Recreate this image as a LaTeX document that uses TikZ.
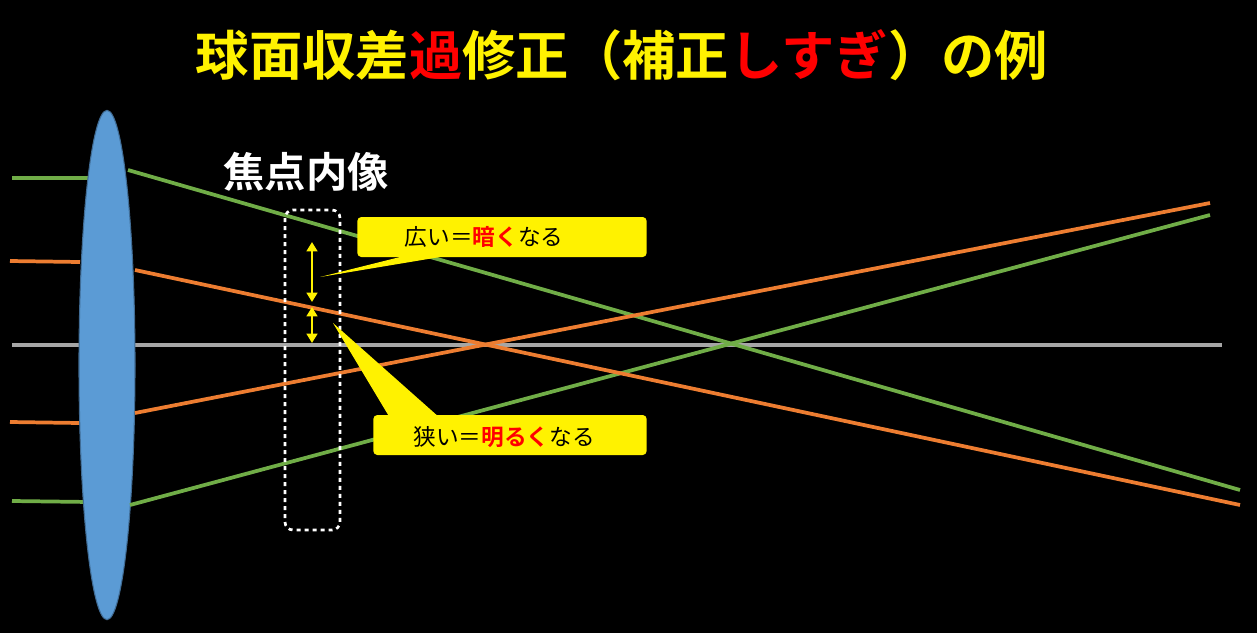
\documentclass[tikz,border=0pt]{standalone}
\usepackage{fontspec}
\newfontfamily\jp{Noto Sans CJK JP}
\newfontfamily\jpb{Noto Sans CJK JP Bold}
\usetikzlibrary{arrows.meta,shapes.geometric}
\definecolor{lgreen}{HTML}{70AD47}
\definecolor{lorange}{HTML}{ED7D31}
\definecolor{lblue}{HTML}{5B9BD5}
\tikzset{ray/.style={line width=2.8pt},
 callout/.style={fill=yellow,rounded corners=3pt},
 yarrow/.style={yellow,line width=2pt,{Triangle[length=7pt,width=8pt]}-{Triangle[length=7pt,width=8pt]}}}
\begin{document}
\begin{tikzpicture}[x=0.75pt,y=-0.75pt]
\fill[black] (0,0) rectangle (1257,633);
\useasboundingbox (0,0) rectangle (1257,633);
\node (title) at (622,55) {\jpb\fontsize{40}{42}\selectfont\color{yellow}球面収差\textcolor{red}{過}修正（補正\textcolor{red}{しすぎ}）の例};
\draw[gray!70,line width=2.8pt] (12,345) -- (1222,345);
% rays
\draw[ray,lgreen] (12,178) -- (90,178);
\draw[ray,lgreen] (12,501) -- (90,502);
\draw[ray,lorange] (10,261) -- (80,262);
\draw[ray,lorange] (10,422) -- (80,423);
\node[ellipse,minimum width=42pt,minimum height=382pt,fill=lblue,draw=lblue!70!black,line width=0.8pt] (lens) at (107,365) {};
\draw[ray,lgreen] (128,170) -- (1240,490);
\draw[ray,lgreen] (130,505) -- (1210,215);
\draw[ray,lorange] (135,270) -- (1240,505);
\draw[ray,lorange] (135,413) -- (1210,203);
\draw[white,dashed,line width=2pt,rounded corners=6pt] (285,210) rectangle (340,530);
\node[white] (lab) at (306,172) {\jpb\fontsize{31}{33}\selectfont 焦点内像};
\draw[yarrow] (312,242) -- (312,302);
\draw[yarrow] (312,307) -- (312,343);
% callouts
\fill[yellow] (400,257) -- (320,277) -- (470,252) -- cycle;
\node[callout,minimum width=217pt,minimum height=30pt] (c1) at (502,237) {};
\node at (484,237) {\jp\fontsize{17}{19}\selectfont 広い＝{\jpb\color{red}暗く}なる};
\fill[yellow] (390,418) -- (333,323) -- (440,418) -- cycle;
\node[callout,minimum width=205pt,minimum height=30pt] (c2) at (510,435) {};
\node at (504,437) {\jp\fontsize{17}{19}\selectfont 狭い＝{\jpb\color{red}明るく}なる};
\end{tikzpicture}
\end{document}
